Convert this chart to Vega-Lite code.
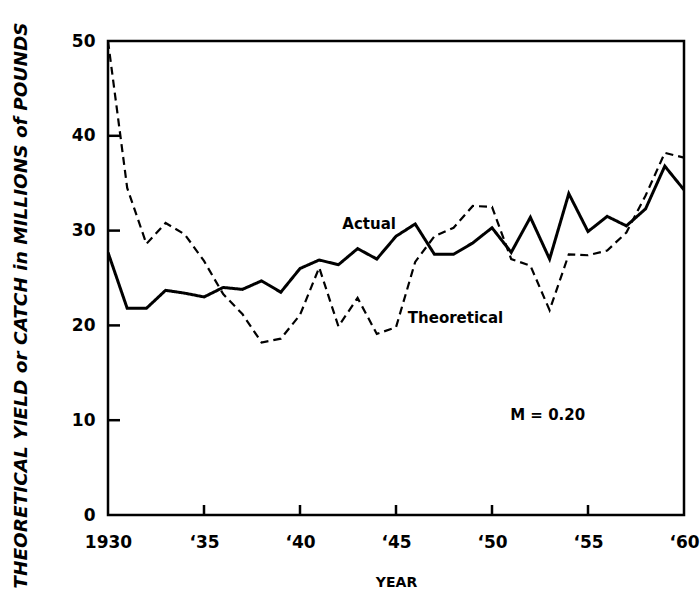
{
  "$schema": "https://vega.github.io/schema/vega-lite/v6.json",
  "width": 576,
  "height": 474,
  "autosize": {"type": "none"},
  "padding": {"left": 108, "top": 41, "right": 16, "bottom": 80},
  "background": "white",
  "config": {
    "view": {"stroke": "black", "strokeWidth": 2.5},
    "axis": {"domain": false, "grid": false, "labelColor": "black", "titleColor": "black", "tickColor": "black", "labelFont": "DejaVu Sans", "titleFont": "DejaVu Sans"}
  },
  "datasets": {
    "series": [
      {"year": 1930, "series": "Actual", "value": 27.7},
      {"year": 1931, "series": "Actual", "value": 21.8},
      {"year": 1932, "series": "Actual", "value": 21.8},
      {"year": 1933, "series": "Actual", "value": 23.7},
      {"year": 1934, "series": "Actual", "value": 23.4},
      {"year": 1935, "series": "Actual", "value": 23.0},
      {"year": 1936, "series": "Actual", "value": 24.0},
      {"year": 1937, "series": "Actual", "value": 23.8},
      {"year": 1938, "series": "Actual", "value": 24.7},
      {"year": 1939, "series": "Actual", "value": 23.5},
      {"year": 1940, "series": "Actual", "value": 26.0},
      {"year": 1941, "series": "Actual", "value": 26.9},
      {"year": 1942, "series": "Actual", "value": 26.4},
      {"year": 1943, "series": "Actual", "value": 28.1},
      {"year": 1944, "series": "Actual", "value": 27.0},
      {"year": 1945, "series": "Actual", "value": 29.4},
      {"year": 1946, "series": "Actual", "value": 30.7},
      {"year": 1947, "series": "Actual", "value": 27.5},
      {"year": 1948, "series": "Actual", "value": 27.5},
      {"year": 1949, "series": "Actual", "value": 28.7},
      {"year": 1950, "series": "Actual", "value": 30.3},
      {"year": 1951, "series": "Actual", "value": 27.7},
      {"year": 1952, "series": "Actual", "value": 31.4},
      {"year": 1953, "series": "Actual", "value": 27.0},
      {"year": 1954, "series": "Actual", "value": 33.9},
      {"year": 1955, "series": "Actual", "value": 29.9},
      {"year": 1956, "series": "Actual", "value": 31.5},
      {"year": 1957, "series": "Actual", "value": 30.5},
      {"year": 1958, "series": "Actual", "value": 32.3},
      {"year": 1959, "series": "Actual", "value": 36.8},
      {"year": 1960, "series": "Actual", "value": 34.3},
      {"year": 1930, "series": "Theoretical", "value": 50.0},
      {"year": 1931, "series": "Theoretical", "value": 34.5},
      {"year": 1932, "series": "Theoretical", "value": 28.6},
      {"year": 1933, "series": "Theoretical", "value": 30.8},
      {"year": 1934, "series": "Theoretical", "value": 29.6},
      {"year": 1935, "series": "Theoretical", "value": 26.8},
      {"year": 1936, "series": "Theoretical", "value": 23.3},
      {"year": 1937, "series": "Theoretical", "value": 21.2},
      {"year": 1938, "series": "Theoretical", "value": 18.2},
      {"year": 1939, "series": "Theoretical", "value": 18.6},
      {"year": 1940, "series": "Theoretical", "value": 21.1},
      {"year": 1941, "series": "Theoretical", "value": 26.1},
      {"year": 1942, "series": "Theoretical", "value": 19.9},
      {"year": 1943, "series": "Theoretical", "value": 22.9},
      {"year": 1944, "series": "Theoretical", "value": 19.1},
      {"year": 1945, "series": "Theoretical", "value": 19.8},
      {"year": 1946, "series": "Theoretical", "value": 26.7},
      {"year": 1947, "series": "Theoretical", "value": 29.4},
      {"year": 1948, "series": "Theoretical", "value": 30.3},
      {"year": 1949, "series": "Theoretical", "value": 32.6},
      {"year": 1950, "series": "Theoretical", "value": 32.5},
      {"year": 1951, "series": "Theoretical", "value": 27.0},
      {"year": 1952, "series": "Theoretical", "value": 26.3},
      {"year": 1953, "series": "Theoretical", "value": 21.6},
      {"year": 1954, "series": "Theoretical", "value": 27.5},
      {"year": 1955, "series": "Theoretical", "value": 27.4},
      {"year": 1956, "series": "Theoretical", "value": 27.9},
      {"year": 1957, "series": "Theoretical", "value": 29.8},
      {"year": 1958, "series": "Theoretical", "value": 33.7},
      {"year": 1959, "series": "Theoretical", "value": 38.2},
      {"year": 1960, "series": "Theoretical", "value": 37.7}
    ],
    "notes": [
      {"year": 1943.6, "value": 30.7, "text": "Actual"},
      {"year": 1948.1, "value": 20.8, "text": "Theoretical"},
      {"year": 1952.9, "value": 10.6, "text": "M = 0.20"}
    ],
    "xticks": [{"year": 1935}, {"year": 1940}, {"year": 1945}, {"year": 1950}, {"year": 1955}],
    "yticks": [{"value": 10}, {"value": 20}, {"value": 30}, {"value": 40}]
  },
  "layer": [
    {
      "data": {"name": "series"},
      "mark": {"type": "line", "color": "black", "strokeJoin": "miter", "clip": true},
      "encoding": {
        "x": {
          "field": "year", "type": "quantitative",
          "scale": {"domain": [1930, 1960], "nice": false, "zero": false},
          "axis": {
            "values": [1930, 1935, 1940, 1945, 1950, 1955, 1960],
            "labelExpr": "datum.value == 1930 ? '1930' : '\u2018' + substring(toString(datum.value), 2, 4)",
            "ticks": false, "labelPadding": 19, "labelFlush": false,
            "labelFontSize": 17, "labelFontWeight": "bold",
            "title": "YEAR", "titleFontSize": 14, "titleFontWeight": "bold",
            "titleY": 67, "titleBaseline": "middle"
          }
        },
        "y": {
          "field": "value", "type": "quantitative",
          "scale": {"domain": [0, 50], "nice": false},
          "axis": {
            "values": [0, 10, 20, 30, 40, 50],
            "ticks": false, "labelPadding": 13, "labelFlush": false,
            "labelFontSize": 17, "labelFontWeight": "bold",
            "title": "THEORETICAL  YIELD  or  CATCH  in  MILLIONS  of  POUNDS",
            "titleFontSize": 18.5, "titleFontWeight": "bold", "titleFontStyle": "italic",
            "titleX": -88, "titleY": 264, "titleBaseline": "middle", "titleAlign": "center", "titleAngle": -90
          }
        },
        "detail": {"field": "series"},
        "strokeDash": {
          "field": "series", "type": "nominal",
          "scale": {"domain": ["Actual", "Theoretical"], "range": [[1, 0], [8, 5]]},
          "legend": null
        },
        "strokeWidth": {
          "field": "series", "type": "nominal",
          "scale": {"domain": ["Actual", "Theoretical"], "range": [3, 2.2]},
          "legend": null
        }
      }
    },
    {
      "data": {"name": "xticks"},
      "mark": {"type": "tick", "orient": "vertical", "color": "black", "size": 20, "thickness": 2.5, "clip": true, "opacity": 1},
      "encoding": {
        "x": {"field": "year", "type": "quantitative"},
        "y": {"datum": 0}
      }
    },
    {
      "data": {"name": "yticks"},
      "mark": {"type": "tick", "orient": "horizontal", "color": "black", "size": 24, "thickness": 2.5, "clip": true, "opacity": 1},
      "encoding": {
        "x": {"datum": 1930},
        "y": {"field": "value", "type": "quantitative"}
      }
    },
    {
      "data": {"name": "notes"},
      "mark": {"type": "text", "color": "black", "font": "DejaVu Sans", "fontSize": 15, "fontWeight": "bold", "align": "center", "baseline": "middle"},
      "encoding": {
        "x": {"field": "year", "type": "quantitative"},
        "y": {"field": "value", "type": "quantitative"},
        "text": {"field": "text"}
      }
    }
  ]
}
